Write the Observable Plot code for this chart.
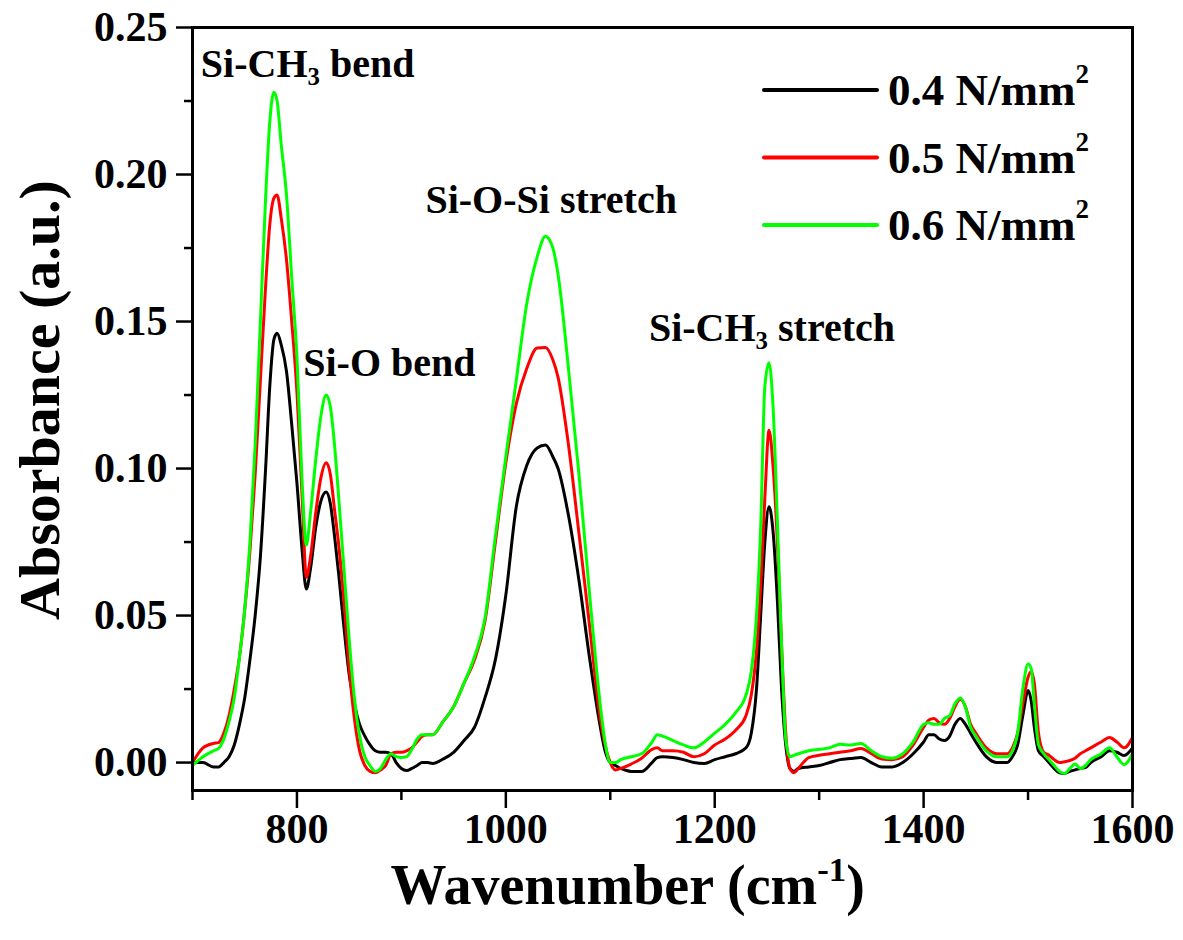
<!DOCTYPE html>
<html>
<head>
<meta charset="utf-8">
<script src="https://cdn.jsdelivr.net/npm/d3@7"></script>
<script src="https://cdn.jsdelivr.net/npm/@observablehq/plot@0.6"></script>
<style>
  html, body { margin: 0; padding: 0; background: #fff; }
  #chart { width: 1183px; height: 940px; }
</style>
</head>
<body>
<div id="chart"></div>
<script>
// ---------------- data ----------------
const wavenumber = [
  700,710,720,725,730,735,740,745,750,755,
  760,765,770,774,778,781,785,790,795,800,
  805,809,813,818,823,828,832,836,840,845,
  850,855,860,865,870,875,880,885,890,895,
  900,905,910,915,920,925,930,940,950,960,
  970,980,990,1000,1010,1020,1030,1038,1045,1050,
  1060,1070,1080,1090,1095,1100,1105,1110,1120,1130,
  1140,1145,1150,1160,1170,1180,1190,1200,1210,1220,
  1230,1235,1240,1244,1248,1252,1256,1260,1264,1268,
  1272,1276,1280,1290,1300,1310,1320,1330,1340,1350,
  1360,1370,1380,1390,1400,1405,1410,1415,1420,1425,
  1430,1435,1440,1445,1450,1460,1470,1480,1485,1490,
  1495,1500,1503,1506,1510,1515,1520,1525,1530,1535,
  1540,1545,1550,1555,1560,1570,1578,1585,1592,1600
];

// 0.4 N/mm2 (black)
const absorb04 = [
  0.000,0.000,-0.0015,-0.0015,0.000,0.002,0.006,0.013,0.022,0.035,
  0.050,0.070,0.100,0.128,0.144,0.146,0.142,0.133,0.115,0.095,
  0.072,0.059,0.066,0.080,0.089,0.092,0.088,0.077,0.064,0.046,
  0.030,0.020,0.013,0.009,0.006,0.004,0.0035,0.0035,0.003,0.000,
  -0.002,-0.0027,-0.002,-0.001,0.000,0.000,-0.0003,0.0012,0.0035,0.0075,
  0.012,0.022,0.035,0.057,0.087,0.101,0.107,0.108,0.104,0.100,
  0.084,0.062,0.036,0.013,0.004,0.000,-0.001,-0.002,-0.003,-0.003,
  0.000,0.0017,0.002,0.0017,0.001,0.000,-0.0003,0.001,0.002,0.003,
  0.005,0.010,0.025,0.050,0.075,0.087,0.078,0.055,0.025,0.006,
  -0.002,-0.003,-0.002,-0.0015,-0.001,0.000,0.001,0.0014,0.0017,0.000,
  -0.0015,-0.0015,0.000,0.003,0.007,0.0095,0.0095,0.008,0.0075,0.009,
  0.013,0.015,0.013,0.010,0.007,0.002,0.000,0.000,0.002,0.006,
  0.016,0.0245,0.021,0.012,0.004,0.002,0.000,-0.002,-0.0035,-0.0037,
  -0.003,-0.0025,-0.002,-0.0017,0.000,0.002,0.004,0.0035,0.0024,0.005
];

// 0.5 N/mm2 (red)
const absorb05 = [
  0.000,0.005,0.0065,0.0068,0.010,0.016,0.025,0.036,0.052,0.072,
  0.098,0.130,0.162,0.183,0.192,0.193,0.185,0.171,0.150,0.126,
  0.090,0.063,0.070,0.085,0.097,0.102,0.098,0.086,0.074,0.055,
  0.032,0.015,0.004,-0.001,-0.003,-0.0035,-0.0025,-0.001,0.003,0.0035,
  0.0035,0.004,0.005,0.007,0.009,0.0095,0.0095,0.014,0.019,0.027,
  0.035,0.048,0.075,0.102,0.122,0.134,0.141,0.1412,0.137,0.131,
  0.108,0.078,0.047,0.016,0.006,0.000,-0.0025,-0.002,-0.0005,0.0015,
  0.0045,0.005,0.004,0.004,0.0035,0.002,0.003,0.006,0.008,0.011,
  0.016,0.023,0.038,0.060,0.090,0.113,0.100,0.075,0.040,0.010,
  -0.002,-0.0035,-0.002,0.0017,0.0025,0.003,0.0035,0.004,0.0048,0.003,
  0.0012,0.001,0.002,0.006,0.012,0.0145,0.015,0.0135,0.013,0.015,
  0.019,0.0215,0.019,0.013,0.010,0.005,0.003,0.003,0.005,0.010,
  0.020,0.029,0.031,0.027,0.010,0.0035,0.0025,0.001,0.000,0.0003,
  0.0007,0.0015,0.003,0.004,0.005,0.007,0.0085,0.007,0.005,0.0085
];

// 0.6 N/mm2 (green)
const absorb06 = [
  -0.001,0.002,0.004,0.0048,0.008,0.014,0.022,0.036,0.052,0.075,
  0.108,0.150,0.192,0.218,0.228,0.225,0.210,0.193,0.165,0.138,
  0.095,0.074,0.085,0.103,0.118,0.125,0.121,0.108,0.090,0.066,
  0.042,0.022,0.009,0.002,-0.001,-0.003,-0.002,0.001,0.003,0.002,
  0.0017,0.002,0.0045,0.008,0.0095,0.0095,0.0095,0.014,0.019,0.027,
  0.036,0.049,0.077,0.104,0.130,0.156,0.172,0.179,0.175,0.166,
  0.134,0.098,0.058,0.021,0.007,0.000,0.000,0.001,0.002,0.003,
  0.007,0.0095,0.009,0.0075,0.006,0.005,0.007,0.010,0.013,0.017,
  0.023,0.031,0.050,0.080,0.128,0.136,0.120,0.082,0.040,0.008,
  0.002,0.0025,0.003,0.004,0.0045,0.005,0.0062,0.006,0.0065,0.004,
  0.002,0.0015,0.003,0.007,0.013,0.0135,0.013,0.013,0.015,0.016,
  0.020,0.022,0.019,0.012,0.009,0.004,0.002,0.002,0.004,0.010,
  0.025,0.0335,0.032,0.020,0.006,0.003,0.001,-0.001,-0.003,-0.0037,
  -0.002,-0.0005,-0.002,-0.001,0.001,0.003,0.005,0.002,-0.0007,0.003
];

const seriesLabels = ["0.4 N/mm", "0.5 N/mm", "0.6 N/mm"];
const seriesColors = ["#000000", "#ff0000", "#00ff00"];
const seriesValues = [absorb04, absorb05, absorb06];

const xMajorTicks = [800, 1000, 1200, 1400, 1600];
const xMinorTicks = [700, 900, 1100, 1300, 1500];
const yMajorTicks = [0, 0.05, 0.10, 0.15, 0.20, 0.25];
const yMinorTicks = [0.025, 0.075, 0.125, 0.175, 0.225];

const peakLabels = ["Si-CH_{3} bend", "Si-O bend", "Si-O-Si stretch", "Si-CH_{3} stretch"];
const peakLabelX = [708, 806, 923, 1137];
const peakLabelY = [0.2333, 0.1316, 0.187, 0.1435];

// ---------------- chart ----------------
const FONT = '"Liberation Serif", "Times New Roman", Times, serif';

const spectra = seriesValues.map((vals, s) =>
  wavenumber.map((w, i) => ({w, a: vals[i], s}))
);
const annotations = peakLabels.map((t, i) => ({t, x: peakLabelX[i], y: peakLabelY[i]}));

const plot = Plot.plot({
  width: 1183,
  height: 940,
  marginTop: 27,
  marginRight: 51,
  marginBottom: 150,
  marginLeft: 192,
  x: {domain: [700, 1600]},
  y: {domain: [-0.0095, 0.25]},
  style: {fontFamily: FONT, fontWeight: "bold", fontSize: "42px", color: "black", background: "white", overflow: "visible"},
  marks: [
    ...spectra.map((d, s) => Plot.line(d, {x: "w", y: "a", stroke: seriesColors[s], strokeWidth: 3, curve: "monotone-x"})),
    Plot.frame({stroke: "black", strokeWidth: 3}),
    Plot.axisX({ticks: xMajorTicks, tickSize: 18, tickPadding: 5, tickFormat: d3.format("d"), strokeWidth: 2.5, label: null, fontSize: 42, fontWeight: "bold"}),
    Plot.axisX({ticks: xMinorTicks, tickSize: 10, tickFormat: () => "", strokeWidth: 2.5, label: null}),
    Plot.axisY({ticks: yMajorTicks, tickSize: 16, tickPadding: 9, tickFormat: d3.format(".2f"), strokeWidth: 2.5, label: null, fontSize: 42, fontWeight: "bold"}),
    Plot.axisY({ticks: yMinorTicks, tickSize: 8, tickFormat: () => "", strokeWidth: 2.5, label: null}),
    Plot.text(annotations, {x: "x", y: "y", text: "t", textAnchor: "start", lineAnchor: "bottom", fontSize: 40, fontWeight: "bold", fill: "black"}),
    Plot.text(["Wavenumber (cm^{-1})"], {frameAnchor: "bottom", textAnchor: "start", lineAnchor: "bottom", dx: -272, dy: 113, fontSize: 56, fontWeight: "bold", fill: "black"}),
    Plot.text(["Absorbance (a.u.)"], {frameAnchor: "left", rotate: -90, textAnchor: "start", lineAnchor: "middle", dx: -152, dy: 211, fontSize: 58, fontWeight: "bold", fill: "black"})
  ]
});

document.getElementById("chart").appendChild(plot);

// rich text: _{..} subscript, ^{..} superscript
function richify(el) {
  const s = el.textContent;
  if (!/[_^]\{/.test(s)) return;
  const fs = parseFloat(getComputedStyle(el).fontSize) || 40;
  const parts = s.split(/([_^]\{[^}]*\})/).filter(p => p.length);
  el.textContent = "";
  let shift = 0;
  for (const p of parts) {
    const t = document.createElementNS("http://www.w3.org/2000/svg", "tspan");
    let target = 0, text = p, size = null;
    if (p.startsWith("_{")) { target = 0.2 * fs; text = p.slice(2, -1); size = 0.62 * fs; }
    else if (p.startsWith("^{")) { target = -0.4 * fs; text = p.slice(2, -1); size = 0.62 * fs; }
    const dy = target - shift;
    if (dy !== 0) t.setAttribute("dy", dy);
    if (size) t.setAttribute("font-size", size);
    t.textContent = text;
    el.appendChild(t);
    shift = target;
  }
}
d3.select(plot).selectAll("text").each(function() { richify(this); });

// legend (inside the svg, upper right)
const svg = d3.select(plot);
const lg = svg.append("g")
  .attr("font-family", FONT).attr("font-weight", "bold")
  .attr("text-anchor", "start");
seriesLabels.forEach((lab, i) => {
  const yLine = 90 + 67.5 * i;
  lg.append("line")
    .attr("x1", 764).attr("x2", 877).attr("y1", yLine).attr("y2", yLine)
    .attr("stroke", seriesColors[i]).attr("stroke-width", 4).attr("stroke-linecap", "round");
  const t = lg.append("text").attr("x", 888).attr("y", yLine + 15)
    .attr("font-size", 45).attr("fill", "black").attr("text-anchor", "start");
  t.append("tspan").text(lab);
  t.append("tspan").attr("dy", -22).attr("font-size", 27).text("2");
});
</script>
</body>
</html>
